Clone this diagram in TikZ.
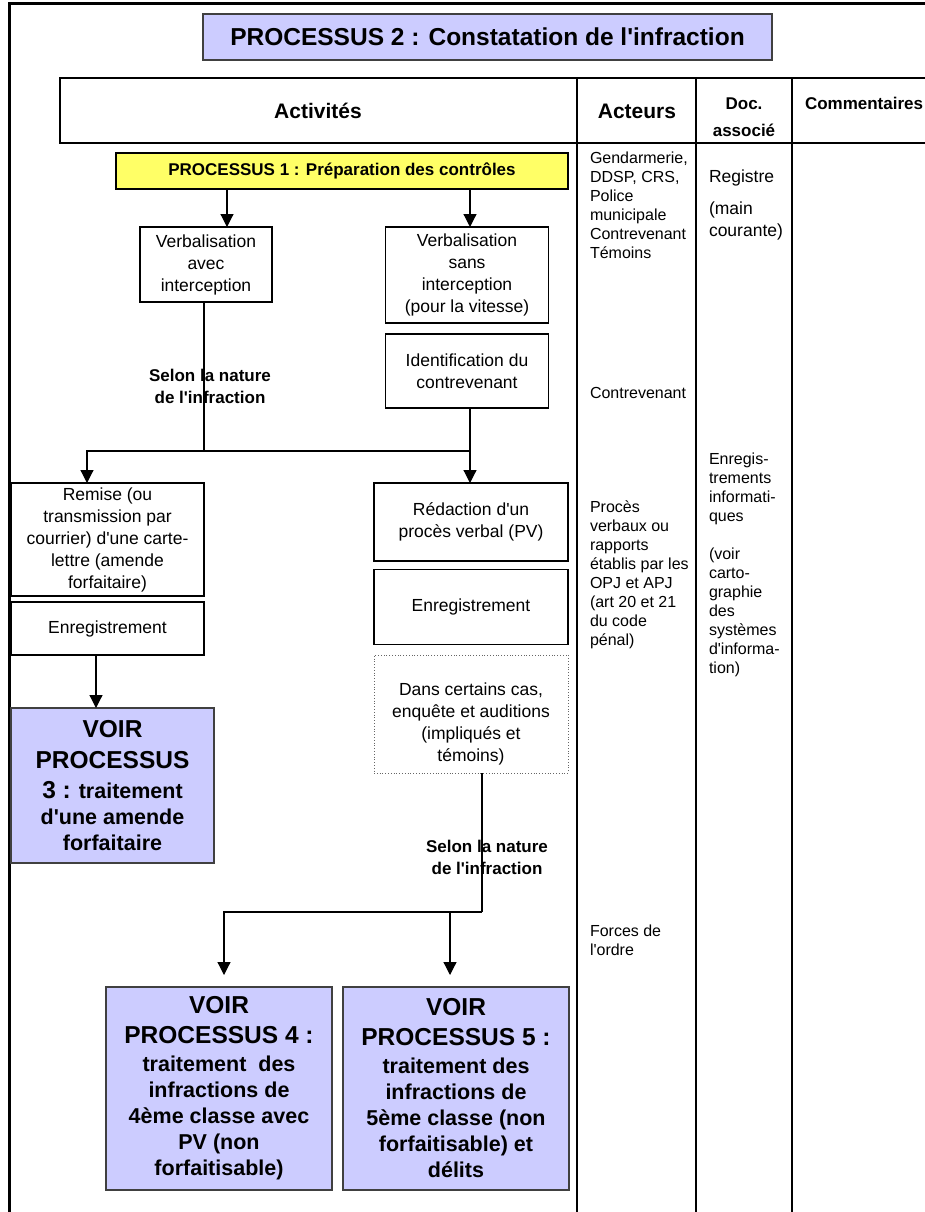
\documentclass[tikz,border=0pt]{standalone}
\usepackage{fontspec}
\setmainfont{Liberation Sans}[Ligatures=TeXOff]
\usetikzlibrary{arrows.meta}
\definecolor{lav}{RGB}{204,204,255}
\definecolor{yel}{RGB}{255,255,102}
\newcommand\fsbox{\fontsize{17.5}{22}\selectfont}
\newcommand\fsact{\fontsize{16}{19}\selectfont}
\newcommand\fsbig{\fontsize{24.5}{30}\selectfont\bfseries}
\newcommand\fsmid{\fontsize{21.5}{26}\selectfont\bfseries}
\begin{document}
\begin{tikzpicture}[x=1pt,y=-1pt,
  every node/.style={inner sep=0pt, outer sep=0pt},
  box/.style={draw=black, line width=1.2pt, fill=white, align=center, font=\fsbox},
  lavbox/.style={draw=black!75, line width=1.2pt, fill=lav, align=center, font=\fsmid},
  dotbox/.style={draw=black!60, line width=0.8pt, dotted},
  lbl/.style={align=center, font=\fontsize{17}{22}\selectfont\bfseries},
  act/.style={align=left, anchor=west, font=\fsact},
  doc/.style={align=left, anchor=west, font=\fsbox},
  hdr/.style={font=\fontsize{21}{24}\selectfont\bfseries},
  hdrs/.style={font=\fontsize{17}{20}\selectfont\bfseries},
  conn/.style={line width=1.2pt},
  arr/.style={line width=1.2pt, -{Triangle[width=13pt,length=13pt]}},
  frame/.style={line width=3pt, line join=miter},
  grid/.style={line width=1.3pt}
]
\useasboundingbox (0,0) rectangle (925,1212);

% outer frame
\draw[frame] (9,1215) -- (9,4) -- (930,4);

% title
\node[draw=black!75, line width=1.2pt, fill=lav, minimum width=569pt, minimum height=46pt,
      font=\fontsize{24.5}{28}\selectfont\bfseries] (title) at (487.5,37) {PROCESSUS 2 : Constatation de l'infraction};

% header and columns
\draw[grid] (60,78) rectangle (935,143);
\draw[grid] (577,78) -- (577,1215);
\draw[grid] (696,78) -- (696,1215);
\draw[grid] (792,78) -- (792,1215);
\node[hdr] (hA) at (318,111) {Activités};
\node[hdr] (hB) at (637,111) {Acteurs};
\node[hdrs] (hC) at (744,104) {Doc.};
\begin{scope}
  \clip (697,79) rectangle (791,142.3);
  \node[hdrs] (hD) at (744,130) {associé};
\end{scope}
\node[hdrs, anchor=west] (hE) at (805,103) {Commentaires};

% activities
\node[draw, line width=1.2pt, fill=yel, minimum width=452pt, minimum height=36pt,
      font=\fontsize{17}{20}\selectfont\bfseries] (p1) at (342,171) {PROCESSUS 1 : Préparation des contrôles};

\node[box, minimum width=132pt, minimum height=75pt] (va) at (206,264.5) {Verbalisation\\avec\\interception};
\node[box, minimum width=163pt, minimum height=96pt] (vs) at (467,275) {Verbalisation\\sans\\interception\\(pour la vitesse)};
\node[box, minimum width=163pt, minimum height=74pt] (id) at (467,371) {Identification du\\contrevenant};

\coordinate (xa) at (227,0);
\coordinate (xb) at (470,0);
\coordinate (xl) at (87,0);
\coordinate (j1) at (204,451);

\draw[arr] (p1.south -| xa) -- (va.north -| xa);
\draw[arr] (p1.south -| xb) -- (vs.north -| xb);

\node[lbl] (s1) at (210,386) {Selon la nature\\de l'infraction};

\node[box, minimum width=193pt, minimum height=113pt] (rm) at (107.5,539.5) {Remise (ou\\transmission par\\courrier) d'une carte-\\lettre (amende\\forfaitaire)};
\node[box, minimum width=193pt, minimum height=53pt] (en1) at (107.5,628.5) {Enregistrement};
\node[lavbox, minimum width=203pt, minimum height=155pt] (p3) at (112.5,785.5)
  {{\fsbig VOIR}\\[5pt]{\fsbig PROCESSUS}\\[4pt]{\fsbig 3 :} traitement\\d'une amende\\forfaitaire};

\node[box, minimum width=194pt, minimum height=78pt] (rd) at (471,522) {Rédaction d'un\\procès verbal (PV)};
\node[box, minimum width=194pt, minimum height=75pt] (en2) at (471,607) {Enregistrement};
\node[dotbox, minimum width=194pt, minimum height=118pt] (dt) at (471,714) {};
\node[align=center, font=\fsbox] (dtt) at (471,724) {Dans certains cas,\\enquête et auditions\\(impliqués et\\témoins)};

\draw[conn] (va.south -| j1) -- (j1);
\draw[arr] (j1) -| (rm.north -| xl);
\draw[conn] (j1) -- (xb |- j1);
\draw[arr] (id.south -| xb) -- (rd.north -| xb);

\coordinate (x3) at (96,0);
\draw[arr] (en1.south -| x3) -- (p3.north -| x3);

\node[lbl] (s2) at (487,857.5) {Selon la nature\\de l'infraction};

\node[lavbox, minimum width=226pt, minimum height=203pt] (p4) at (219,1088.5)
  {{\fsbig VOIR}\\[4pt]{\fsbig PROCESSUS 4 :}\\[2pt]traitement\ \ des\\infractions de\\4ème classe avec\\PV (non\\forfaitisable)};
\node[lavbox, minimum width=226pt, minimum height=203pt] (p5) at (456,1088.5)
  {{\fsbig VOIR}\\[4pt]{\fsbig PROCESSUS 5 :}\\[2pt]traitement des\\infractions de\\5ème classe (non\\forfaitisable) et\\délits};

\coordinate (x5) at (482,0);
\coordinate (x6) at (224,0);
\coordinate (x7) at (450,0);
\coordinate (j2) at (482,912);
\draw[conn] (dt.south -| x5) -- (j2);
\draw[arr] (j2) -| ([yshift=12pt]p4.north -| x6);
\draw[arr] (x7 |- j2) -- ([yshift=12pt]p5.north -| x7);

% actors
\node[act] (a1) at (590,205.5) {Gendarmerie,\\DDSP, CRS,\\Police\\municipale\\Contrevenant\\Témoins};
\node[act] (a2) at (590,393) {Contrevenant};
\node[act] (a3) at (590,574.5) {Procès\\verbaux ou\\rapports\\établis par les\\OPJ et APJ\\(art 20 et 21\\du code\\pénal)};
\node[act] (a4) at (590,940) {Forces de\\l'ordre};

% documents
\node[doc] (d1) at (709,178) {Registre};
\node[doc] (d2) at (709,221) {(main\\courante)};
\node[act, anchor=west] (d3) at (709,565) {Enregis-\\trements\\informati-\\ques\\[19pt](voir\\carto-\\graphie\\des\\systèmes\\d'informa-\\tion)};
\end{tikzpicture}
\end{document}
